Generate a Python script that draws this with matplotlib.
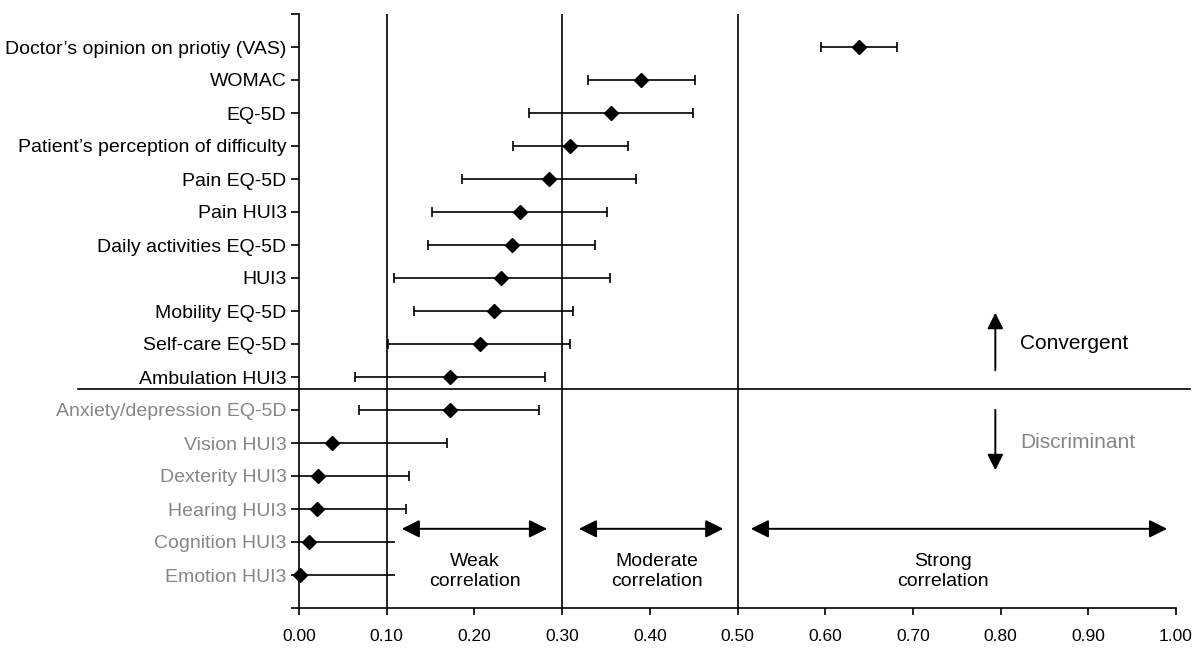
import matplotlib
matplotlib.use("Agg")
import matplotlib.pyplot as plt
import numpy as np

plt.rcParams['font.family'] = ['Liberation Sans', 'DejaVu Sans']

labels = ["Doctor\u2019s opinion on priotiy (VAS)", "WOMAC", "EQ-5D",
          "Patient\u2019s perception of difficulty", "Pain EQ-5D", "Pain HUI3",
          "Daily activities EQ-5D", "HUI3", "Mobility EQ-5D", "Self-care EQ-5D",
          "Ambulation HUI3", "Anxiety/depression EQ-5D", "Vision HUI3",
          "Dexterity HUI3", "Hearing HUI3", "Cognition HUI3", "Emotion HUI3"]
estimate = [0.638, 0.390, 0.356, 0.309, 0.285, 0.252, 0.243, 0.230, 0.222,
            0.206, 0.172, 0.172, 0.038, 0.022, 0.020, 0.011, 0.001]
lower = [0.595, 0.329, 0.262, 0.244, 0.186, 0.152, 0.147, 0.108, 0.131,
         0.102, 0.064, 0.068, -0.093, -0.081, -0.082, -0.087, -0.107]
upper = [0.682, 0.451, 0.449, 0.375, 0.384, 0.351, 0.338, 0.355, 0.312,
         0.309, 0.281, 0.274, 0.169, 0.125, 0.122, 0.109, 0.109]
n_convergent = 11
thresholds = [0.10, 0.30, 0.50]
xticks = [0.0, 0.1, 0.2, 0.3, 0.4, 0.5, 0.6, 0.7, 0.8, 0.9, 1.0]

GRAY = '#868686'

fig = plt.figure(figsize=(12, 6.52), dpi=100)
ax = fig.add_axes([299/1200, 1-608/652, 877/1200, (608-14)/652])

y = np.arange(len(labels))
est = np.array(estimate)
lo = np.array(lower)
hi = np.array(upper)

capped = y < 15
ax.errorbar(est[capped], y[capped], xerr=[est[capped]-lo[capped], hi[capped]-est[capped]],
            fmt='D', color='black', ms=7.5, elinewidth=1.2, capsize=3.5, capthick=1.2, zorder=3)
eb = ax.errorbar(est[~capped], y[~capped], xerr=[est[~capped]-lo[~capped], hi[~capped]-est[~capped]],
                 fmt='D', color='black', ms=7.5, elinewidth=1.2, capsize=0, zorder=3)
eb[0].set_clip_on(False)

for t in thresholds:
    ax.axvline(t, color='black', lw=1.2, zorder=1)

ax.set_xlim(0, 1.0)
ax.set_ylim(len(labels), -1)
ax.set_xticks(xticks)
ax.set_xticklabels([f"{v:.2f}" for v in xticks], fontsize=12.5)
ax.set_yticks(np.arange(-1, len(labels)+1))
ax.set_yticklabels([''] + labels + [''], fontsize=14)
for i, tl in enumerate(ax.get_yticklabels()[1:-1]):
    if i >= n_convergent:
        tl.set_color(GRAY)
ax.tick_params(axis='y', length=6, width=1.2, pad=3)
ax.tick_params(axis='x', length=5, width=1.2, pad=10)
for s in ['top', 'right']:
    ax.spines[s].set_visible(False)
for s in ['left', 'bottom']:
    ax.spines[s].set_linewidth(1.2)

# separator between convergent and discriminant
ax.plot([-0.252, 1.016], [10.36, 10.36], color='black', lw=1.2,
        transform=ax.get_yaxis_transform(), clip_on=False)

# correlation range arrows
arrow_kw = dict(arrowstyle='<|-|>', color='black', lw=1.4, mutation_scale=27)
ranges = [(0.114, 0.286, 0.201, "Weak\ncorrelation"),
          (0.316, 0.487, 0.408, "Moderate\ncorrelation"),
          (0.512, 0.993, 0.734, "Strong\ncorrelation")]
for a, b, c, txt in ranges:
    ax.annotate('', xy=(b, 14.6), xytext=(a, 14.6), arrowprops=arrow_kw)
    ax.text(c, 15.9, txt, ha='center', va='center', fontsize=14, linespacing=1.25)

# convergent / discriminant arrows
v_kw = dict(arrowstyle='-|>', color='black', lw=1.4, mutation_scale=24)
ax.annotate('', xy=(0.794, 7.97), xytext=(0.794, 9.88), arrowprops=v_kw)
ax.annotate('', xy=(0.794, 12.91), xytext=(0.794, 10.91), arrowprops=v_kw)
ax.text(0.822, 8.97, "Convergent", ha='left', va='center', fontsize=15)
ax.text(0.822, 11.97, "Discriminant", ha='left', va='center', fontsize=15, color=GRAY)

fig.savefig('out.png', dpi=100)
